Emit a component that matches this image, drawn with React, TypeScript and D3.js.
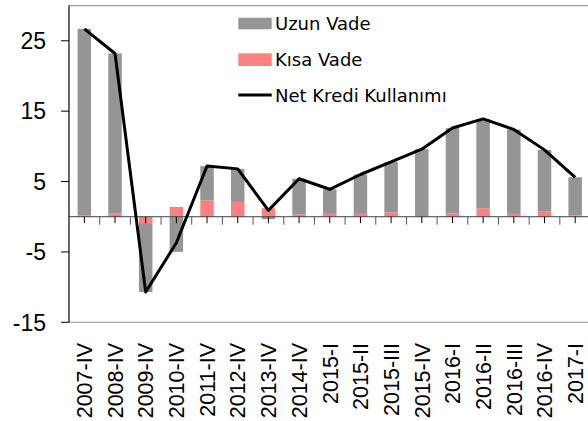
import React from "react";
import * as d3 from "d3";

const categories = ["2007-IV","2008-IV","2009-IV","2010-IV","2011-IV","2012-IV","2013-IV","2014-IV","2015-I","2015-II","2015-III","2015-IV","2016-I","2016-II","2016-III","2016-IV","2017-I"];
const uzunVade = [26.5, 22.7, -9.8, -5.0, 4.9, 4.7, -0.35, 5.1, 3.5, 5.6, 7.2, 9.5, 12.1, 12.7, 12.0, 8.7, 5.4];
const kisaVade = [0.2, 0.5, -0.9, 1.4, 2.3, 2.1, 1.2, 0.3, 0.4, 0.4, 0.6, 0.1, 0.5, 1.2, 0.4, 0.8, 0.2];
const netKredi = [26.7, 23.2, -10.7, -3.7, 7.2, 6.8, 0.9, 5.4, 3.9, 6.0, 7.8, 9.6, 12.6, 13.9, 12.4, 9.5, 5.6];
const yTicks = [-15, -5, 5, 15, 25];
const legendLabels = ["Uzun Vade", "Kısa Vade", "Net Kredi Kullanımı"];

const GRAY = "#959595";
const RED = "#ff8080";

export default function App() {
  const W = 588, H = 421;
  const left = 69, right = 590.5, top = 5.6, bottom = 322.3;
  const x = d3.scaleBand<string>().domain(categories).range([left, right]).padding(0);
  const y = d3.scaleLinear().domain([-15, 30]).range([bottom, top]);
  const bw = x.bandwidth();
  const barW = bw * 0.44;
  const cx = (c: string) => (x(c) as number) + bw / 2;

  const rows = categories.map((c, i) => ({ cat: c, kisa: kisaVade[i], uzun: uzunVade[i] }));
  const stack = d3.stack<any>().keys(["kisa", "uzun"]).offset(d3.stackOffsetDiverging);
  const series = stack(rows);
  const colors: Record<string, string> = { kisa: RED, uzun: GRAY };

  const line = d3.line<number>().x((_, i) => cx(categories[i])).y((d) => y(d));
  const y0 = y(0);

  return (
    <svg width={W} height={H} style={{ position: "absolute", left: 0, top: 0, background: "#fff" }}>
      {/* top and bottom plot borders */}
      <line x1={left} x2={W} y1={top} y2={top} stroke="#a0a0a0" strokeWidth={1.2} />
      <line x1={left} x2={W} y1={bottom} y2={bottom} stroke="#a6a6a6" strokeWidth={1.2} />
      {series.map((s) => (
        <g key={s.key} fill={colors[s.key]}>
          {s.map((d, i) => {
            const a = y(d[0]), b = y(d[1]);
            return <rect key={i} x={cx(categories[i]) - barW / 2} width={barW} y={Math.min(a, b)} height={Math.abs(a - b)} />;
          })}
        </g>
      ))}
      {/* zero axis */}
      <line x1={left} x2={W} y1={y0} y2={y0} stroke="#404040" strokeWidth={1} />
      {categories.map((c, i) => (
        <g key={c}>
          <line x1={cx(c)} x2={cx(c)} y1={y0} y2={y0 + 6.5} stroke="#000" strokeWidth={1} />
          {i > 0 && <line x1={x(c)} x2={x(c)} y1={y0} y2={y0 + 8} stroke="#555" strokeWidth={1} />}
        </g>
      ))}
      <line x1={(x(categories[16]) as number) + bw} x2={(x(categories[16]) as number) + bw} y1={y0} y2={y0 + 8} stroke="#555" />
      {/* left axis */}
      <line x1={left} x2={left} y1={top} y2={bottom} stroke="#000" strokeWidth={1.2} />
      {yTicks.map((t) => (
        <g key={t}>
          <line x1={left - 8} x2={left} y1={y(t)} y2={y(t)} stroke="#000" strokeWidth={1} />
          <text x={46} y={y(t)} dy="0.36em" textAnchor="end" fontFamily="Liberation Sans, Arial, sans-serif" fontSize={23} fill="#000">{t}</text>
        </g>
      ))}
      {/* net line */}
      <path d={line(netKredi) || ""} fill="none" stroke="#000" strokeWidth={3} strokeLinejoin="round" />
      {/* x labels */}
      {categories.map((c) => (
        <text key={c} transform={`translate(${cx(c)},343) rotate(-90)`} dy="0.36em" textAnchor="end" fontFamily="Liberation Sans, Arial, sans-serif" fontSize={21.5} fill="#000">{c}</text>
      ))}
      {/* legend */}
      <g fontFamily="DejaVu Sans, sans-serif" fontSize={18} fill="#000">
        <rect x={238.3} y={17.7} width={33.4} height={11.6} fill={GRAY} />
        <text x={275} y={23.5} dy="0.36em">{legendLabels[0]}</text>
        <rect x={238.3} y={53.3} width={33.4} height={12.7} fill={RED} />
        <text x={275} y={59.5} dy="0.36em">{legendLabels[1]}</text>
        <line x1={238.3} x2={271.7} y1={95} y2={95} stroke="#000" strokeWidth={3} />
        <text x={275} y={96} dy="0.36em">{legendLabels[2]}</text>
      </g>
    </svg>
  );
}
